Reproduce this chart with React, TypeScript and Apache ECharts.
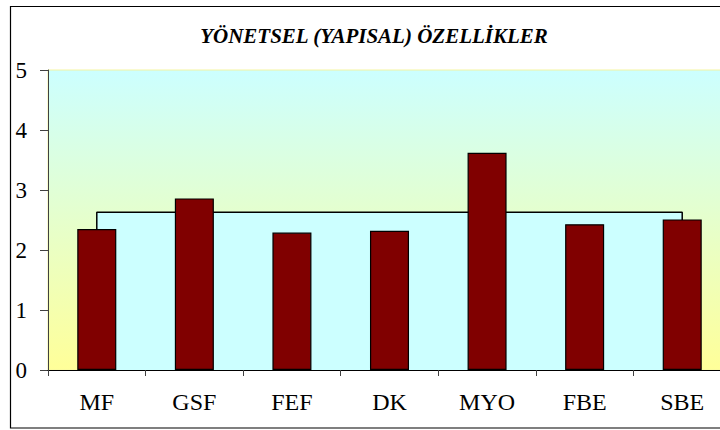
import React, { useEffect, useRef } from "react";
import * as echarts from "echarts";

const categories = ["MF", "GSF", "FEF", "DK", "MYO", "FBE", "SBE"];
const scores = [2.35, 2.86, 2.29, 2.32, 3.62, 2.43, 2.51];
const averageScore = 2.63;
const yTicks = [0, 1, 2, 3, 4, 5];
const titleText = "YÖNETSEL (YAPISAL) ÖZELLİKLER";

const serif = "Times New Roman, Liberation Serif, serif";

export default function App() {
  const ref = useRef<HTMLDivElement>(null);
  useEffect(() => {
    if (!ref.current) return;
    const chart = echarts.init(ref.current, undefined, { renderer: "svg" });
    const lastIdx = categories.length - 1;
    chart.setOption({
      animation: false,
      backgroundColor: "#ffffff",
      title: {
        text: titleText,
        left: 369,
        top: 20,
        textAlign: "center",
        textStyle: {
          fontFamily: serif,
          fontStyle: "italic",
          fontWeight: "bold",
          fontSize: 21,
          color: "#000000",
        },
      },
      graphic: [
        {
          type: "rect",
          shape: { x: 10.5, y: 6.5, width: 740, height: 421.5 },
          style: { fill: "none", stroke: "#000000", lineWidth: 1.2 },
          silent: true,
          z: 100,
        },
      ],
      grid: {
        left: 48,
        top: 70,
        width: 683,
        height: 300,
        show: true,
        borderColor: "#f4f4a0",
        borderWidth: 1,
        backgroundColor: new echarts.graphic.LinearGradient(0, 0, 0, 1, [
          { offset: 0, color: "#ccffff" },
          { offset: 1, color: "#ffff99" },
        ]),
      },
      xAxis: [
        {
          type: "category",
          data: categories,
          boundaryGap: true,
          axisLine: { show: true, onZero: false, lineStyle: { color: "#000000", width: 1.2 } },
          axisTick: { show: true, length: 6, lineStyle: { color: "#404040" } },
          axisLabel: {
            fontFamily: serif,
            fontSize: 24,
            color: "#000000",
            margin: 20,
          },
          splitLine: { show: false },
          z: 10,
        },
        {
          type: "value",
          min: -0.5,
          max: lastIdx + 0.5,
          show: false,
          position: "bottom",
        },
      ],
      yAxis: {
        type: "value",
        min: yTicks[0],
        max: yTicks[yTicks.length - 1],
        interval: 1,
        axisLine: { show: true, onZero: false, lineStyle: { color: "#404040", width: 1 } },
        axisTick: { show: true, length: 8, lineStyle: { color: "#404040" } },
        axisLabel: {
          fontFamily: serif,
          fontSize: 23,
          color: "#000000",
          margin: 21,
        },
        splitLine: { show: false },
      },
      series: [
        {
          type: "line",
          xAxisIndex: 1,
          data: [
            [0, 0],
            [0, averageScore],
            [lastIdx, averageScore],
            [lastIdx, 0],
          ],
          symbol: "none",
          lineStyle: { color: "#000000", width: 1.5 },
          areaStyle: { color: "#ccffff", opacity: 1 },
          z: 2,
          silent: true,
        },
        {
          type: "bar",
          data: scores,
          barWidth: "40%",
          itemStyle: { color: "#800000", borderColor: "#000000", borderWidth: 1.2 },
          z: 5,
        },
      ],
    });
    return () => chart.dispose();
  }, []);
  return (
    <div style={{ position: "fixed", left: 0, top: 0, width: 720, height: 430, overflow: "hidden" }}>
      <div ref={ref} style={{ width: 750, height: 430 }} />
    </div>
  );
}
